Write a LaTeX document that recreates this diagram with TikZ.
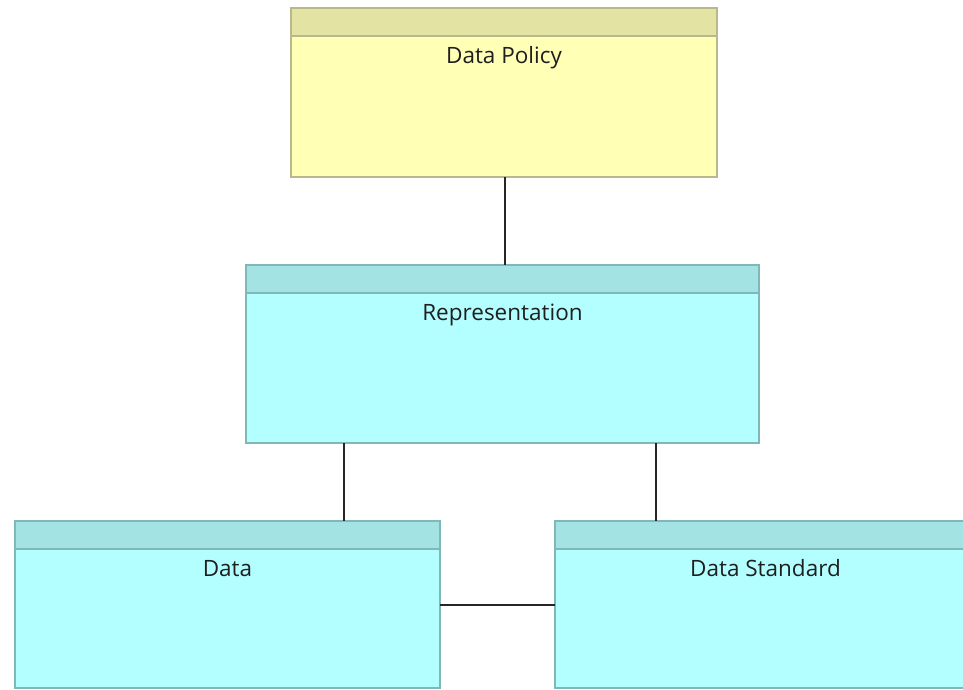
\documentclass[tikz,border=0pt]{standalone}
\usepackage{fontspec}
\setmainfont{Open Sans}
\definecolor{ybody}{HTML}{FFFFB5}
\definecolor{yhead}{HTML}{E3E3A3}
\definecolor{yline}{HTML}{B8B88C}
\definecolor{cbody}{HTML}{B3FFFF}
\definecolor{chead}{HTML}{A3E3E3}
\definecolor{cline}{HTML}{80B8B8}
\tikzset{
  px/.style={x=1pt,y=-1pt},
  lbl/.style={font=\fontsize{22.5}{26}\selectfont, text=black!88, inner sep=0pt, anchor=base},
  conn/.style={draw=black!85, line width=1.3pt}
}
\newcommand{\umlbox}[7]{% name, x1,y1,x2,y2, kind(y/c), label
  \fill[#6body] (#2,#3) rectangle (#4,#5);
  \fill[#6head] (#2,#3) rectangle (#4,#3+28);
  \draw[#6line, line width=1.5pt] (#2,#3) rectangle (#4,#5);
  \draw[#6line, line width=1.5pt] (#2,#3+28) -- (#4,#3+28);
  \coordinate (#1-nw) at (#2,#3);
  \coordinate (#1-se) at (#4,#5);
  \node[lbl] (#1) at ({(#2+#4)/2},#3+55) {#7};
}
\begin{document}
\begin{tikzpicture}[px]
\useasboundingbox (0,0) rectangle (963,689);
\clip (0,0) rectangle (963,689);
\umlbox{pol}{291}{8}{717}{177}{y}{Data Policy}
\umlbox{rep}{246}{265}{759}{443}{c}{Representation}
\umlbox{dat}{15}{521}{440}{688}{c}{Data}
\umlbox{std}{555}{521}{976}{688}{c}{Data Standard}
\coordinate (polB) at (505,177);
\coordinate (repT) at (505,265);
\coordinate (repBL) at (344,443);
\coordinate (datT) at (344,521);
\coordinate (repBR) at (656,443);
\coordinate (stdT) at (656,521);
\coordinate (datR) at (440,605);
\coordinate (stdL) at (555,605);
\draw[conn] (polB) -- (repT);
\draw[conn] (repBL) -- (datT);
\draw[conn] (repBR) -- (stdT);
\draw[conn] (datR) -- (stdL);
\end{tikzpicture}
\end{document}
